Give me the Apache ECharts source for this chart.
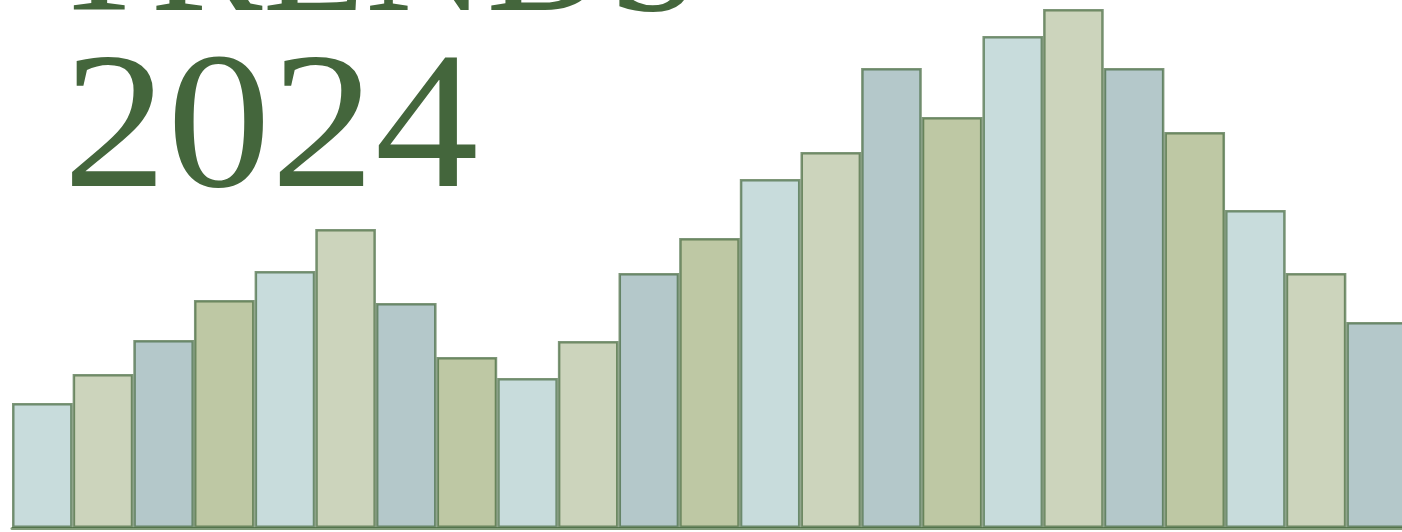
<!DOCTYPE html>
<html>
<head>
<meta charset="utf-8">
<script src="https://cdn.jsdelivr.net/npm/echarts@6/dist/echarts.min.js"></script>
<style>html,body{margin:0;padding:0;background:#fff;overflow:hidden}#c{width:1407px;height:532px}</style>
</head>
<body>
<div id="c"></div>
<script>
var categories = ['1','2','3','4','5','6','7','8','9','10','11','12','13','14','15','16','17','18','19','20','21','22','23'];
var values = [125, 154, 188, 228, 257, 299, 225, 171, 150, 187, 255, 290, 349, 376, 460, 411, 492, 519, 460, 396, 318, 255, 206];
var barColors = ['#c8dcdc', '#ccd4bc', '#b4c8ca', '#bec8a4'];
var titleLines = ['TRENDS', '2024'];

var chart = echarts.init(document.getElementById('c'));
chart.setOption({
  animation: false,
  grid: { left: 12, right: 0, top: 0, bottom: 4 },
  xAxis: {
    type: 'category', data: categories,
    axisLine: { show: true, lineStyle: { color: '#839d7b', width: 3 } },
    axisTick: { show: false }, axisLabel: { show: false }
  },
  yAxis: { type: 'value', min: 0, max: 528, show: false, splitLine: { show: false } },
  graphic: [
    { type: 'text', x: 48, y: -118, z: 10,
      style: { text: titleLines[0], font: '168px "Liberation Serif"', fill: '#44663c', verticalAlign: 'top' } },
    { type: 'text', x: 63, y: 37, scaleX: 1.06, z: 10,
      style: { text: titleLines[1], font: '196px "Liberation Serif"', fill: '#44663c', verticalAlign: 'top' } }
  ],
  series: [{
    type: 'bar', data: values, barGap: 0, barCategoryGap: 0,
    itemStyle: {
      color: function (p) { return barColors[p.dataIndex % 4]; },
      borderColor: 'rgba(58,96,50,0.66)', borderWidth: 2.5
    }
  }]
});
</script>
</body>
</html>
